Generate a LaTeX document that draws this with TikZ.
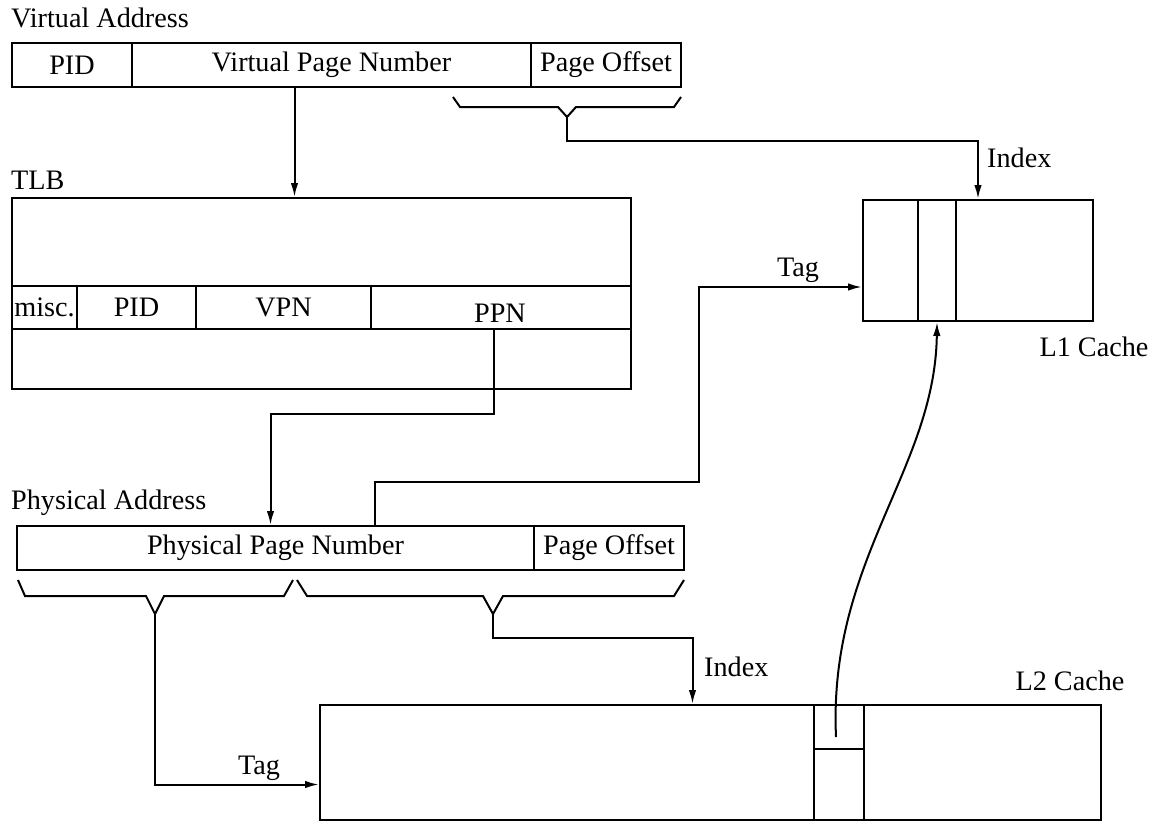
\documentclass[tikz,border=0pt]{standalone}
\usepackage{fontspec}
\setmainfont{Liberation Serif}
\usetikzlibrary{arrows.meta,calc}
\newcommand{\mycell}[6]{\node[cellbox, minimum width={(#4)-(#2)}, minimum height={(#5)-(#3)}] (#1) at ({((#2)+(#4))/2},{((#3)+(#5))/2}) {#6};}
\begin{document}
\begin{tikzpicture}[x=1pt,y=-1pt,
  every node/.style={font=\fontsize{28.2}{31}\selectfont},
  cellbox/.style={draw, rectangle, inner sep=0pt, line width=2pt},
  lbl/.style={inner sep=0pt},
  arr/.style={line width=2pt, -{Latex[length=14pt,width=7.5pt]}},
  bracketline/.style={line width=2pt, line join=miter}]
\useasboundingbox (0,0) rectangle (1156,823);

% Virtual address
\node[lbl, anchor=west] (valbl) at (11,18) {Virtual Address};
\mycell{vapid}{12}{43}{132}{87}{PID}
\mycell{vpn}{132}{43}{531}{87}{Virtual Page Number}
\mycell{vaoff}{531}{43}{681}{87}{Page Offset}

% TLB
\node[lbl, anchor=west] (tlblbl) at (11,180) {TLB};
\mycell{tlb}{12}{198}{631}{389}{}
\mycell{misc}{12}{286}{77}{329}{misc.}
\mycell{tpid}{77}{286}{196}{329}{PID}
\mycell{tvpn}{196}{286}{371}{329}{VPN}
\mycell{ppn}{371}{286}{631}{329}{}
\node[lbl] (ppntxt) at (500,313) {PPN};

% Physical address
\node[lbl, anchor=west] (palbl) at (11,503) {Physical Address};
\mycell{ppnum}{17}{526}{534}{570}{Physical Page Number}
\mycell{paoff}{534}{526}{684}{570}{Page Offset}

% L1 cache
\mycell{l1a}{863}{200}{918}{321}{}
\mycell{l1b}{918}{200}{956}{321}{}
\mycell{l1c}{956}{200}{1093}{321}{}
\node[lbl] (l1lbl) at (1094,347) {L1 Cache};

% L2 cache
\mycell{l2a}{320}{705}{814}{820}{}
\mycell{l2b}{814}{705}{864}{749}{}
\mycell{l2bb}{814}{749}{864}{820}{}
\mycell{l2c}{864}{705}{1101}{820}{}
\node[lbl] (l2lbl) at (1070,681) {L2 Cache};

% brackets
\draw[bracketline] (453,97) -- (460,107) -- (558,107) -- (567,117) coordinate (b1) -- (576,107) -- (674,107) -- (681,97);
\draw[bracketline] (18,580) -- (25,596) -- (146,596) -- (155,614) coordinate (b2) -- (164,596) -- (284,596) -- (293,580);
\draw[bracketline] (297,580) -- (307,596) -- (483,596) -- (493,614) coordinate (b3) -- (503,596) -- (674,596) -- (684,580);

% connectors
\draw[arr] ([xshift=-37pt]vpn.south) coordinate (t1) -- (t1 |- tlb.north);
\draw[arr] ([xshift=-7pt]ppn.south) -- ++(0,84) -| ([xshift=-5pt]ppnum.north);
\draw[arr] ([xshift=99pt]ppnum.north) -- ++(0,-43) -- ++(324,0) |- ([yshift=-26.5pt]l1a.west);
\node[lbl] (tag1) at (798,270) {Tag};
\draw[arr] (b1) -- ++(0,24) -| ([xshift=-46.5pt]l1c.north);
\node[lbl, anchor=west] (idx1) at (987,158) {Index};
\draw[arr] (b3) -- ++(0,24) -| ([xshift=125.5pt]l2a.north);
\node[lbl, anchor=west] (idx2) at (704,667) {Index};
\draw[arr] (b2) |- ([yshift=-22pt]l2a.west);
\node[lbl] (tag2) at (259,768) {Tag};
\draw[arr] ([xshift=-3pt,yshift=-10pt]l2b.center) .. controls (828,560) and (935,470) .. (l1b.south);
\end{tikzpicture}
\end{document}
